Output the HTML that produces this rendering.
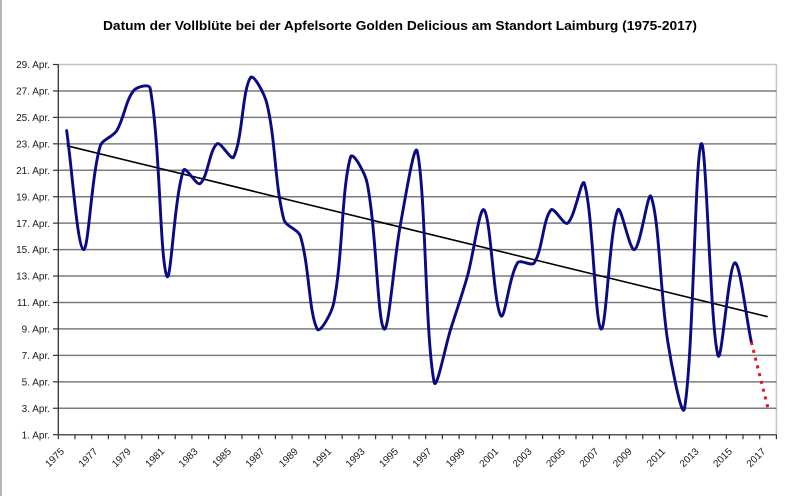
<!DOCTYPE html>
<html>
<head>
<meta charset="utf-8">
<style>
  html, body { margin: 0; padding: 0; background: #ffffff; }
  body { width: 800px; height: 496px; overflow: hidden; }
  svg { display: block; }
  text { font-family: "Liberation Sans", Arial, sans-serif; fill: #1a1a1a; }
</style>
</head>
<body>
<svg id="chart" width="800" height="496" viewBox="0 0 800 496" xmlns="http://www.w3.org/2000/svg">
  <rect x="0" y="0" width="800" height="496" fill="#ffffff"/>
  <line x1="1" y1="0" x2="1" y2="496" stroke="#b4b4b4" stroke-width="2"/>

  <text x="400" y="30" text-anchor="middle" font-size="13" font-weight="bold" textLength="594" lengthAdjust="spacingAndGlyphs" style="fill:#000">Datum der Vollblüte bei der Apfelsorte Golden Delicious am Standort Laimburg (1975-2017)</text>

  <g id="grid"></g>
  <g id="axes"></g>
  <g id="ylabels"></g>
  <g id="xlabels"></g>

  <line x1="66.7" y1="145.7" x2="767.7" y2="316.7" stroke="#000" stroke-width="1.6"/>
  <path id="series" d="" fill="none" stroke="#0a0a84" stroke-width="2.9" stroke-linejoin="round" stroke-linecap="round"/>
  <line id="reddots" x1="751.4" y1="342.2" x2="768.1" y2="408.3" stroke="#e8141e" stroke-width="3" stroke-dasharray="3 5"/>
</svg>
<script>
(function(){
  var NS = "http://www.w3.org/2000/svg";
  var left = 58.3, right = 776.4, top = 64.5, bottom = 434.7;
  var per = (bottom - top) / 28; // per day
  function yOf(d){ return bottom - (d - 1) * per; }
  var step = (right - left) / 43;
  function xOf(i){ return left + step * (i + 0.5); }
  function el(name, attrs, parent, txt){
    var e = document.createElementNS(NS, name);
    for (var k in attrs) e.setAttribute(k, attrs[k]);
    if (txt !== undefined) e.textContent = txt;
    parent.appendChild(e);
    return e;
  }
  var grid = document.getElementById('grid');
  var axes = document.getElementById('axes');
  var yl = document.getElementById('ylabels');
  var xl = document.getElementById('xlabels');
  el('line', {x1:left, y1:top, x2:right, y2:top, stroke:'#c4c4c4', 'stroke-width':1.5}, grid);
  el('line', {x1:right, y1:top, x2:right, y2:bottom, stroke:'#c4c4c4', 'stroke-width':1.5}, grid);
  for (var d = 1; d <= 29; d += 2) {
    var y = yOf(d);
    if (d !== 29 && d !== 1) el('line', {x1:left, y1:y, x2:right, y2:y, stroke:'#7c7c7c', 'stroke-width':1.5}, grid);
    el('line', {x1:53, y1:y, x2:left, y2:y, stroke:'#333', 'stroke-width':1.2}, axes);
    el('text', {x:50, y:y+3.6, 'text-anchor':'end', 'font-size':10}, yl, d + '. Apr.');
  }
  el('line', {x1:left, y1:top, x2:left, y2:bottom+0.5, stroke:'#333', 'stroke-width':1.3}, axes);
  el('line', {x1:left, y1:bottom, x2:right, y2:bottom, stroke:'#555', 'stroke-width':1.5}, axes);
  for (var i = 0; i <= 43; i++) {
    var x = left + step * i;
    el('line', {x1:x, y1:bottom, x2:x, y2:bottom+4.5, stroke:'#333', 'stroke-width':1.2}, axes);
    if (i % 2 === 0 && i <= 42) {
      var ax = x + 6.5, ay = 452;
      el('text', {x:ax, y:ay, 'text-anchor':'end', 'font-size':10, transform:'rotate(-45 '+ax+' '+ay+')'}, xl, String(1975 + i));
    }
  }
  var data = [24,15,22.8,24,27,27.2,13,21,20,23,22,28,26,17.3,16,9,11,22,20,9,17,22.4,5,9,13,18,10,14,14,18,17,20,9,18,15,19,8,3,23,7,14,8];
  var pts = data.map(function(v,i){ return [xOf(i), yOf(v)]; });
  var n = pts.length;
  function dist(a,b){ return Math.sqrt((a[0]-b[0])*(a[0]-b[0])+(a[1]-b[1])*(a[1]-b[1])); }
  var dstr = 'M' + pts[0][0].toFixed(2) + ' ' + pts[0][1].toFixed(2);
  for (var i = 0; i < n - 1; i++) {
    var p0 = pts[Math.max(0, i-1)], p1 = pts[i], p2 = pts[i+1], p3 = pts[Math.min(n-1, i+2)];
    var d01 = dist(p0,p1), d12 = dist(p1,p2), d23 = dist(p2,p3);
    var f1 = (d01 + d12) > 0 ? 2*d12/(d01+d12) : 1;
    var f2 = (d12 + d23) > 0 ? 2*d12/(d12+d23) : 1;
    var c1x = p1[0] + (p2[0]-p0[0])/6*f1, c1y = p1[1] + (p2[1]-p0[1])/6*f1;
    var c2x = p2[0] - (p3[0]-p1[0])/6*f2, c2y = p2[1] - (p3[1]-p1[1])/6*f2;
    dstr += ' C' + c1x.toFixed(2)+' '+c1y.toFixed(2)+' '+c2x.toFixed(2)+' '+c2y.toFixed(2)+' '+p2[0].toFixed(2)+' '+p2[1].toFixed(2);
  }
  document.getElementById('series').setAttribute('d', dstr);
  var last = pts[n-1];
  var rd = document.getElementById('reddots');
  rd.setAttribute('x1', last[0]); rd.setAttribute('y1', last[1]);
  rd.setAttribute('x2', xOf(42)); rd.setAttribute('y2', yOf(3));
})();
</script>
</body>
</html>
